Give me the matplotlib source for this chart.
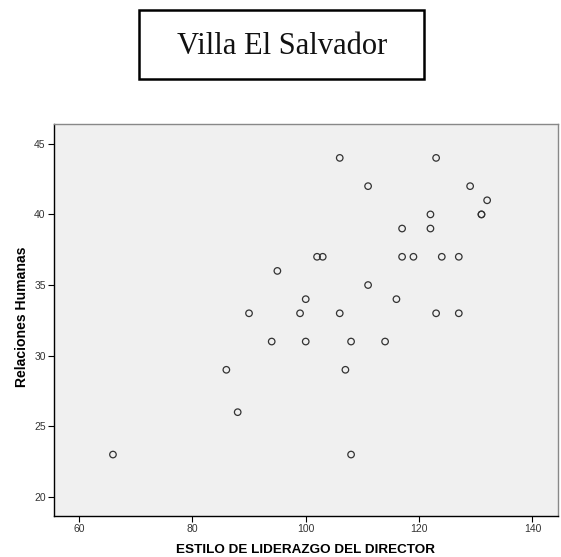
import matplotlib
matplotlib.use("Agg")
import matplotlib.pyplot as plt
from matplotlib.patches import Rectangle

title = "Villa El Salvador"
x_label = "ESTILO DE LIDERAZGO DEL DIRECTOR"
y_label = "Relaciones Humanas"

# estilo de liderazgo del director (x) vs relaciones humanas (y)
liderazgo = [66, 86, 88, 90, 94, 95, 99, 100, 100, 102, 103, 106, 106, 107,
             108, 108, 111, 111, 114, 116, 117, 117, 119, 122, 122, 123, 123,
             124, 127, 127, 129, 131, 131, 132]
relaciones = [23, 29, 26, 33, 31, 36, 33, 34, 31, 37, 37, 44, 33, 29,
              31, 23, 42, 35, 31, 34, 39, 37, 37, 40, 39, 44, 33,
              37, 37, 33, 42, 40, 40, 41]

x_ticks = [60, 80, 100, 120, 140]
y_ticks = [20, 25, 30, 35, 40, 45]


def main():
    W, H = 561, 557
    fig = plt.figure(figsize=(W / 100, H / 100), dpi=100)

    # boxed title
    fig.patches.append(Rectangle((139 / W, 1 - 79 / H), 285 / W, 69 / H,
                                 transform=fig.transFigure, fill=False,
                                 edgecolor='black', linewidth=1.8))
    fig.text(282 / W, 1 - 46 / H, title, ha='center', va='center',
             fontsize=22, family='Liberation Serif', color='#111111')

    ax = fig.add_axes([54 / W, 1 - 516 / H, 504 / W, 392 / H])
    ax.set_facecolor('#f0f0f0')
    ax.scatter(liderazgo, relaciones, s=22, facecolors='none',
               edgecolors='#333333', linewidths=0.9, zorder=3)

    ax.set_xlim(55.6, 144.5)
    ax.set_ylim(18.65, 46.4)
    ax.set_xticks(x_ticks)
    ax.set_yticks(y_ticks)
    ax.tick_params(direction='out', length=4, width=0.8, color='black',
                   labelsize=7.5, labelcolor='#333333', pad=2)
    for lab in ax.get_xticklabels() + ax.get_yticklabels():
        lab.set_family('Liberation Sans')

    for side in ('left', 'bottom'):
        ax.spines[side].set_color('black')
        ax.spines[side].set_linewidth(1.0)
    for side in ('top', 'right'):
        ax.spines[side].set_color('#888888')
        ax.spines[side].set_linewidth(1.0)

    ax.set_xlabel(x_label, fontsize=9.7, fontweight='bold',
                  family='Liberation Sans')
    ax.xaxis.label.set_va('center')
    ax.xaxis.set_label_coords(306 / W, 1 - 550 / H, transform=fig.transFigure)
    ax.set_ylabel(y_label, fontsize=10.1, fontweight='bold',
                  family='Liberation Sans')
    ax.yaxis.label.set_va('center')
    ax.yaxis.set_label_coords(22 / W, 1 - 317 / H, transform=fig.transFigure)

    fig.savefig('out.png', dpi=100)


if __name__ == "__main__":
    main()
